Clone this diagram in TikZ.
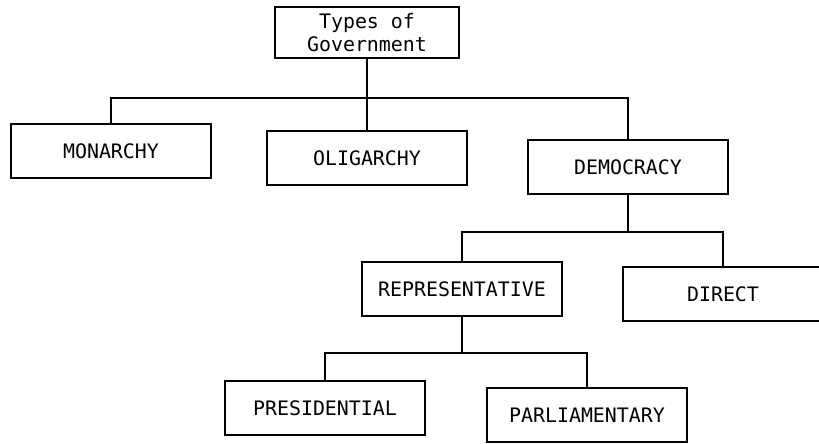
\documentclass[tikz,border=0pt]{standalone}
\usepackage{fontspec}
\setmonofont{DejaVu Sans Mono}
\usepackage{tikz}
\usetikzlibrary{positioning}

\begin{document}
\begin{tikzpicture}[x=0.5bp,y=-0.5bp,line width=1bp,
                    type box/.style={rectangle,draw,fill=white,minimum width=100bp,minimum height=27bp,
                                     inner sep=0pt,font=\ttfamily\fontsize{10}{11.5}\selectfont}]
  \useasboundingbox (0,0) rectangle (819,444);

  \node[type box,minimum width=92bp,minimum height=25.5bp,align=center] (gov) at (367,33) {Types of\\Government};
  \node[type box] (mon) at (111,151) {MONARCHY};
  \node[type box] (oli) at (367,158) {OLIGARCHY};
  \node[type box] (dem) at (628,167) {DEMOCRACY};
  \node[type box] (rep) at (462,289) {REPRESENTATIVE};
  \node[type box] (dir) at (723,294) {DIRECT};
  \node[type box] (pre) at (325,408) {PRESIDENTIAL};
  \node[type box] (par) at (587,415) {PARLIAMENTARY};

  % branch points
  \coordinate (govbar) at (367,98);
  \coordinate (dembar) at (628,232);
  \coordinate (repbar) at (462,353);

  \draw (gov) -- (govbar);
  \draw (mon.north) |- (govbar) -| (dem.north);
  \draw (govbar) -- (oli.north);

  \draw (dem) -- (dembar);
  \draw (rep.north) |- (dembar) -| (dir.north);

  \draw (rep) -- (repbar);
  \draw (pre.north) |- (repbar) -| (par.north);
\end{tikzpicture}
\end{document}
